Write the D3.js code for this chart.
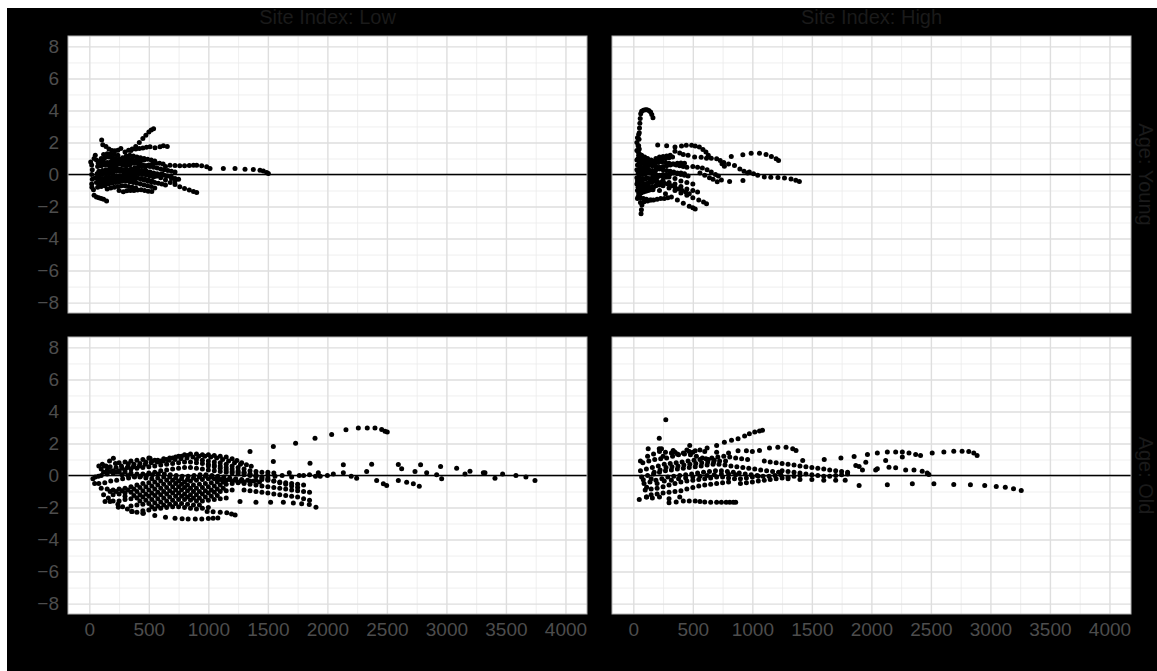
<!DOCTYPE html>
<html>
<head>
<meta charset="utf-8">
<script src="https://cdn.jsdelivr.net/npm/d3@7"></script>
<style>
	body { margin: 0; background: #ffffff; }
	svg text { font-family: "Liberation Sans", Arial, sans-serif; }
</style>
</head>
<body>
<div id="chart"></div>
<script>
//////////////////////////// data /////////////////////////////////////////

const colLabels = ["Site Index: Low", "Site Index: High"];
const rowLabels = ["Age: Young", "Age: Old"];

const xMajor = [0, 500, 1000, 1500, 2000, 2500, 3000, 3500, 4000];
const xMinor = [250, 750, 1250, 1750, 2250, 2750, 3250, 3750];
const yMajor = [-8, -6, -4, -2, 0, 2, 4, 6, 8];
const yMinor = [-7, -5, -3, -1, 1, 3, 5, 7];

// residuals, [x, residual]
const lowYoung = [
	// rising arc
	[350,1.5],[390,1.75],[420,2.0],[450,2.25],[475,2.45],[500,2.65],[520,2.78],[540,2.85],
	// upper rows
	[104,2.15],[113,1.86],[140,1.75],[165,1.6],[190,1.5],[215,1.48],[240,1.52],[265,1.62],
	[300,1.4],[330,1.52],[360,1.6],[390,1.6],[420,1.62],[450,1.66],[480,1.7],[510,1.74],[552,1.67],[594,1.73],[622,1.79],[655,1.75],
	// long tail
	[640,0.5],[678,0.58],[720,0.56],[760,0.55],[800,0.55],[840,0.56],[875,0.58],[902,0.58],[944,0.54],[986,0.48],[1014,0.38],
	[1126,0.37],[1224,0.37],[1308,0.33],[1378,0.32],[1434,0.27],[1462,0.22],[1490,0.13],[1504,0.06],
	// falling lines
	[560,-0.1],[600,-0.2],[640,-0.35],[680,-0.5],[720,-0.63],[760,-0.76],[800,-0.87],[840,-0.97],[875,-1.06],[902,-1.12],
	[610,0.05],[650,-0.1],[690,-0.25],[720,-0.4],
	// low rows
	[40,-1.3],[60,-1.4],[80,-1.45],[100,-1.5],[120,-1.55],[145,-1.65],
	[250,-1.0],[286,-1.08],[315,-1.02],[345,-1.0],[375,-1.0],[405,-0.97],[435,-0.96],[465,-1.0],[495,-1.04],[525,-1.06],
	// left column
	[12,0.78],[20,0.6],[25,0.3],[20,0.0],[25,-0.3],[20,-0.6],[22,-0.8],[35,-0.95],[40,1.0],[50,1.2],
	// dense cluster
	[60,0.9],[90,0.85],[120,0.8],[150,0.75],[180,0.8],[210,0.85],[240,0.9],[270,0.95],[300,1.0],[330,1.0],[360,0.95],
	[70,0.5],[100,0.55],[130,0.6],[160,0.6],[190,0.55],[220,0.6],[250,0.65],[280,0.6],[310,0.55],[340,0.6],[370,0.7],[400,0.8],[430,0.85],[460,0.9],[490,0.95],[520,0.9],[550,0.85],
	[80,0.2],[110,0.25],[140,0.3],[170,0.35],[200,0.4],[230,0.4],[260,0.35],[290,0.3],[320,0.3],[350,0.35],[380,0.4],[410,0.45],[440,0.5],[470,0.55],[500,0.6],[530,0.65],[560,0.7],[590,0.7],[620,0.65],
	[50,-0.2],[80,-0.1],[110,0.0],[140,0.05],[170,0.1],[200,0.15],[230,0.2],[260,0.2],[290,0.15],[320,0.1],[350,0.1],[380,0.15],[410,0.2],[440,0.25],[470,0.3],
	[60,-0.5],[90,-0.45],[120,-0.4],[150,-0.35],[180,-0.3],[210,-0.25],[240,-0.2],[270,-0.15],[300,-0.1],[330,-0.05],[360,0.0],[390,0.05],[420,0.05],[450,0.0],[480,-0.05],[510,-0.1],[540,-0.15],[570,-0.1],[600,-0.05],
	[70,-0.8],[100,-0.75],[130,-0.7],[160,-0.6],[190,-0.55],[220,-0.5],[250,-0.45],[280,-0.4],[310,-0.4],[340,-0.45],[370,-0.5],[400,-0.55],[430,-0.6],[460,-0.65],[490,-0.7],[520,-0.75],[550,-0.85],
	[150,-0.9],[180,-0.85],[210,-0.8],[240,-0.75],[270,-0.7],[300,-0.7],[330,-0.75],[360,-0.8],[390,-0.85],
	[100,1.0],[130,1.05],[160,1.1],[190,1.05],[220,1.0],[250,0.95],[280,1.05],[310,1.15],[340,1.2],[370,1.15],[400,1.1],[430,1.05],[460,1.0],
	[400,-0.2],[430,-0.3],[460,-0.35],[490,-0.4],[520,-0.45],[550,-0.5],[580,-0.55],[610,-0.6],[640,-0.65],
	[300,0.6],[330,0.7],[360,0.75],[390,0.7],[420,0.65],[450,0.6],[480,0.55],[510,0.5],[540,0.45],[570,0.4],[600,0.35],[630,0.3],[660,0.25],[690,0.2],[720,0.15],
	[480,0.2],[510,0.15],[540,0.1],[570,0.05],[600,0.0],[630,-0.05],[660,-0.1],[690,-0.15],[720,-0.25],[750,-0.3],
	[75,0.7],[105,0.72],[135,0.68],[165,0.7],[195,0.72],[225,0.75],[255,0.78],[285,0.8],[315,0.82],[345,0.85],[375,0.88],[405,0.9],[435,0.92],
	[65,0.05],[95,0.1],[125,0.15],[155,0.2],[185,0.22],[215,0.25],[245,0.28],[275,0.3],[305,0.28],[335,0.25],[365,0.22],[395,0.2],[425,0.18],[455,0.15],[485,0.12],[515,0.1],[545,0.05],[575,0.0],[605,-0.05],
	[75,-0.3],[105,-0.25],[135,-0.2],[165,-0.15],[195,-0.12],[225,-0.1],[255,-0.08],[285,-0.05],[315,-0.05],[345,-0.1],[375,-0.15],[405,-0.2],[435,-0.25],[465,-0.3],[495,-0.35],[525,-0.4],
	[85,-0.6],[115,-0.58],[145,-0.55],[175,-0.5],[205,-0.45],[235,-0.4],[265,-0.35],[295,-0.3],[325,-0.3],[355,-0.3],[385,-0.35],
	[120,1.25],[150,1.3],[180,1.3],[210,1.25],[240,1.2]
];

const highYoung = [
	// spike and hook
	[40,1.0],[42,1.4],[45,1.8],[48,2.2],[50,2.6],[52,2.9],[55,3.2],[58,3.5],[62,3.8],[70,3.95],[85,4.02],[100,4.05],[115,4.05],[130,4.0],[145,3.9],[155,3.75],[165,3.55],
	[30,2.0],[35,2.3],[45,2.5],[40,1.8],
	// upper rows
	[205,1.85],[280,1.8],[350,1.72],[405,1.78],[445,1.82],[490,1.82],[520,1.78],[555,1.72],[585,1.56],[610,1.4],[630,1.2],
	[350,1.45],[390,1.35],[420,1.25],[460,1.2],[515,1.1],[570,1.08],[615,1.02],[655,1.02],[700,0.98],[730,0.88],[745,0.67],[765,0.52],
	[823,1.12],[920,1.23],[990,1.33],[1060,1.33],[1115,1.25],[1160,1.12],[1200,0.98],[1220,0.88],
	// near zero to the right
	[975,0.15],[1010,0.05],[1045,-0.05],[1100,-0.15],[1155,-0.17],[1215,-0.18],[1270,-0.22],[1325,-0.28],[1365,-0.36],[1395,-0.44],
	[809,-0.44],[921,-0.38],
	[760,0.75],[800,0.65],[850,0.56],[895,0.35],[930,0.2],[960,0.1],
	[500,0.5],[540,0.45],[580,0.4],[620,0.3],[655,0.15],[690,0.0],[715,-0.1],[740,-0.35],
	[560,0.1],[600,-0.05],[640,-0.2],[670,-0.3],[705,-0.45],
	// falling lines
	[150,-0.3],[200,-0.5],[250,-0.7],[300,-0.85],[350,-1.0],[400,-1.15],[450,-1.3],[500,-1.45],[550,-1.6],[590,-1.72],[615,-1.83],
	[120,-0.6],[170,-0.8],[220,-1.0],[270,-1.2],[320,-1.4],[370,-1.6],[420,-1.8],[470,-1.98],[500,-2.08],[520,-2.15],
	[200,-0.2],[250,-0.35],[300,-0.5],[350,-0.6],[400,-0.75],[450,-0.9],[500,-1.0],[540,-1.1],
	[250,0.0],[300,-0.15],[350,-0.25],[400,-0.4],[450,-0.5],[500,-0.6],
	[65,-2.45],[68,-2.2],[72,-1.9],
	// dense column
	[30,1.5],[50,1.3],[70,1.2],[95,1.1],[120,1.0],[150,0.9],[180,0.85],[210,0.9],[240,0.95],[270,1.0],[300,1.05],[330,1.1],
	[30,0.9],[50,0.8],[75,0.7],[100,0.65],[130,0.6],[160,0.55],[190,0.5],[220,0.45],[250,0.5],[280,0.55],[310,0.6],[340,0.65],[370,0.7],[400,0.72],[430,0.7],
	[30,0.3],[50,0.35],[75,0.4],[100,0.35],[130,0.3],[160,0.25],[190,0.3],[220,0.35],[250,0.3],[280,0.25],[310,0.2],[340,0.15],[370,0.1],[400,0.1],[430,0.05],
	[30,-0.2],[50,-0.1],[75,0.0],[100,0.05],[130,0.1],[160,0.05],[190,0.0],[220,-0.05],[250,-0.1],[280,-0.15],
	[30,-0.6],[50,-0.5],[75,-0.4],[100,-0.3],[130,-0.25],[160,-0.2],[190,-0.15],[220,-0.1],[250,-0.05],[280,0.0],[310,0.05],[340,0.1],[370,0.05],[400,0.0],[430,-0.05],[460,-0.1],
	[35,-1.0],[55,-0.95],[80,-0.9],[105,-0.85],[130,-0.8],[160,-0.75],[190,-0.7],[220,-0.65],[250,-0.6],
	[40,-1.4],[60,-1.45],[85,-1.5],[110,-1.55],[140,-1.6],[170,-1.6],[200,-1.55],[230,-1.5],[260,-1.5],[290,-1.45],
	[60,-1.75],[90,-1.7],[120,-1.65],[150,-1.6],
	[60,0.5],[90,0.45],[120,0.5],[150,0.6],[180,0.7],[210,0.75],[240,0.8],[270,0.75],[300,0.7],[330,0.65],[360,0.6],[390,0.55],[420,0.5],[450,0.45],
	[55,-0.35],[80,-0.25],[110,-0.2],[140,-0.3],[170,-0.4],[200,-0.45],[230,-0.5],[260,-0.55],[290,-0.6],[320,-0.7],[350,-0.8],[380,-0.9],[410,-1.0],[440,-1.1],[470,-1.2],
	[190,1.0],[220,1.1],[250,1.12],[280,1.15],[310,1.2],
	[45,1.2],[65,1.0],[85,0.9],[105,0.85],[125,0.8],[145,0.75],
	[40,0.1],[60,0.15],[80,0.2],[100,0.2],[120,0.15],[140,0.1],[160,0.1],[180,0.15],
	[40,-0.8],[60,-0.7],[80,-0.65],[100,-0.6],[120,-0.55],[140,-0.5],[160,-0.45],[180,-0.4],
	[45,-1.2],[65,-1.15],[85,-1.1],[105,-1.05],[125,-1.0],[145,-0.95],[165,-0.95],
	[35,0.6],[35,-0.4],[35,-1.5],[50,1.6],[55,-1.2]
];

const lowOld = [
	// big arc
	[1350,1.5],[1546,1.81],[1733,2.02],[1896,2.33],[2036,2.56],[2156,2.85],[2260,2.96],[2335,2.96],[2400,2.96],[2456,2.87],[2484,2.77],[2503,2.71],
	// sparse tails
	[1546,0.875],[1854,0.77],[2134,0.67],[2372,0.71],[2596,0.69],[2783,0.67],[2951,0.56],[3086,0.46],[3198,0.27],[3310,0.17],[3472,0.1],[3584,0.0],[3668,-0.1],[3744,-0.31],
	[1680,0.17],[1764,0.0],[1924,0.17],[1940,-0.05],[2134,0.17],[2246,-0.17],[2330,0.25],[2414,-0.31],[2470,-0.52],[2498,-0.62],[2596,-0.31],[2666,-0.42],[2722,-0.52],[2772,-0.67],
	[2624,0.42],[2736,0.25],[2834,0.17],[2918,0.04],[2960,-0.21],[3156,0.1],[3324,0.17],[3408,-0.17],
	[1500,0.05],[1560,-0.05],[1620,0.0],[1700,-0.1],[1800,0.0],[1850,0.05],[1900,-0.05],[2000,0.0],[2050,0.1],[2200,-0.05],
	[1266,-1.63],[1400,-1.67],[1523,-1.67],[1630,-1.67],[1714,-1.71],[1784,-1.77],[1848,-1.81],[1904,-1.98],
	// bottom rows
	[550,-2.5],[640,-2.6],[720,-2.67],[780,-2.7],[830,-2.71],[890,-2.71],[945,-2.71],[1000,-2.68],[1040,-2.67],[1080,-2.65],
	[990,-2.25],[1040,-2.26],[1100,-2.3],[1155,-2.33],[1195,-2.4],[1225,-2.46],
	[132,-1.63],[174,-1.63],[244,-1.98],[356,-2.25],[454,-2.35],
	[202,1.08],[510,1.08],[328,0.73],[76,-0.04],[30,-0.2],[45,-0.5],
	// upper edge of cluster
	[600,0.9],[650,1.0],[700,1.1],[750,1.2],[800,1.3],[850,1.35],[900,1.35],[950,1.3],[1000,1.3],[1050,1.25],[1100,1.2],[1150,1.15],[1200,1.05],[1240,0.94],[1280,0.8],[1320,0.67],[1360,0.58],
	// dense cluster
	[170,0.9],[220,0.75],[270,0.6],[320,0.5],[370,0.55],[420,0.6],[470,0.7],[520,0.8],[570,0.85],[620,0.9],[670,0.95],[720,1.0],[770,1.05],[820,1.1],[870,1.15],[920,1.2],[970,1.2],[1020,1.15],[1070,1.1],[1120,1.0],[1170,0.9],[1220,0.8],[1270,0.7],
	[100,0.4],[150,0.35],[200,0.3],[250,0.3],[300,0.35],[350,0.4],[400,0.45],[450,0.5],[500,0.55],[550,0.6],[600,0.65],[650,0.7],[700,0.75],[750,0.8],[800,0.85],[850,0.85],[900,0.8],[950,0.75],[1000,0.7],[1050,0.65],[1100,0.6],[1150,0.5],[1200,0.4],[1250,0.3],[1300,0.2],[1350,0.1],[1400,0.05],
	[50,-0.1],[100,0.0],[150,0.1],[200,0.15],[250,0.2],[300,0.2],[350,0.15],[400,0.1],[450,0.1],[500,0.15],[550,0.2],[600,0.3],[650,0.35],[700,0.4],[750,0.45],[800,0.5],[850,0.5],[900,0.45],[950,0.4],[1000,0.35],[1050,0.3],[1100,0.25],[1150,0.2],[1200,0.15],[1250,0.1],[1300,0.05],[1350,0.0],[1400,-0.05],[1450,-0.1],[1500,-0.15],
	[80,-0.5],[130,-0.45],[180,-0.35],[230,-0.3],[280,-0.2],[330,-0.15],[380,-0.1],[430,-0.05],[480,0.0],[530,0.05],[580,0.1],[630,0.1],[680,0.05],[730,0.0],[780,-0.05],[830,-0.05],[880,0.0],[930,0.05],[980,0.05],[1030,0.0],[1080,-0.05],[1130,-0.1],[1180,-0.15],[1230,-0.2],[1280,-0.25],[1330,-0.3],[1380,-0.35],[1430,-0.4],
	[100,-0.8],[150,-0.85],[200,-0.9],[250,-0.85],[300,-0.8],[350,-0.7],[400,-0.6],[450,-0.5],[500,-0.45],[550,-0.4],[600,-0.35],[650,-0.3],[700,-0.3],[750,-0.35],[800,-0.4],[850,-0.35],[900,-0.3],[950,-0.25],[1000,-0.2],[1050,-0.2],[1100,-0.25],[1150,-0.3],[1200,-0.35],[1250,-0.4],[1300,-0.5],[1350,-0.55],[1400,-0.6],[1450,-0.65],[1500,-0.7],[1550,-0.75],[1600,-0.8],[1650,-0.85],[1700,-0.9],[1750,-0.95],[1800,-1.0],[1850,-1.05],
	[200,-1.2],[250,-1.15],[300,-1.1],[350,-1.05],[400,-1.0],[450,-0.95],[500,-0.9],[550,-0.85],[600,-0.8],[650,-0.75],[700,-0.7],[750,-0.7],[800,-0.75],[850,-0.8],[900,-0.8],[950,-0.75],[1000,-0.7],[1050,-0.65],[1100,-0.6],[1150,-0.55],[1200,-0.5],[1250,-0.45],[1300,-0.4],[1350,-0.35],[1400,-0.3],[1450,-0.25],[1500,-0.3],[1550,-0.35],[1600,-0.4],[1650,-0.45],[1700,-0.5],[1750,-0.55],[1800,-0.6],
	[250,-1.6],[300,-1.5],[350,-1.45],[400,-1.4],[450,-1.35],[500,-1.3],[550,-1.25],[600,-1.2],[650,-1.15],[700,-1.1],[750,-1.1],[800,-1.15],[850,-1.2],[900,-1.2],[950,-1.15],[1000,-1.1],[1050,-1.05],[1100,-1.0],[1150,-0.95],[1200,-0.9],
	[350,-1.9],[400,-1.85],[450,-1.8],[500,-1.75],[550,-1.7],[600,-1.65],[650,-1.6],[700,-1.55],[750,-1.5],[800,-1.5],[850,-1.55],[900,-1.6],[950,-1.6],[1000,-1.55],[1050,-1.5],[1100,-1.45],[1150,-1.4],
	[450,-2.2],[500,-2.15],[550,-2.1],[600,-2.05],[650,-2.0],[700,-1.95],[750,-1.95],[800,-2.0],[850,-2.05],[900,-2.1],[950,-2.05],[1000,-2.0],
	[120,-1.2],[160,-1.4],[200,-1.6],[240,-1.8],[280,-1.95],[320,-2.1],[360,-2.25],[400,-2.3],[450,-2.35],
	[80,0.6],[110,0.7],[140,0.6],[250,0.8],[300,0.85],[350,0.9],[400,0.95],[450,1.0],[500,1.1],[550,0.95],
	[1000,0.6],[1050,0.55],[1100,0.45],[1150,0.35],[1200,0.25],[1250,0.2],[1300,0.15],[1350,0.05],[1400,-0.05],[1450,-0.15],[1500,-0.25],[1550,-0.35],[1600,-0.45],[1650,-0.55],[1700,-0.65],[1750,-0.75],
	[1300,-0.9],[1350,-0.95],[1400,-1.0],[1450,-1.05],[1500,-1.1],[1550,-1.15],[1600,-1.2],[1650,-1.25],[1700,-1.3],[1750,-1.35],[1800,-1.45],[1850,-1.55],
	[120,0.2],[175,0.25],[225,0.2],[275,0.05],[325,0.0],[375,-0.05],[425,-0.1],[475,-0.15],[525,-0.2],[575,-0.15],[625,-0.1],[675,-0.1],[725,-0.15],[775,-0.2],[825,-0.25],[875,-0.15],[925,-0.1],[975,-0.05],[1025,-0.1],[1075,-0.15],[1125,-0.2],[1175,-0.25],[1225,-0.3],[1275,-0.35],
	[175,-1.0],[225,-1.0],[275,-0.95],[325,-0.9],[375,-0.85],[425,-0.75],[475,-0.7],[525,-0.65],[575,-0.6],[625,-0.55],[675,-0.5],[725,-0.5],[775,-0.55],[825,-0.6],[875,-0.6],[925,-0.55],[975,-0.5],[1025,-0.45],[1075,-0.4],[1125,-0.4],
	[300,-1.3],[375,-1.25],[425,-1.2],[475,-1.15],[525,-1.1],[575,-1.05],[625,-1.0],[675,-0.95],[725,-0.9],[775,-0.9],[825,-0.95],[875,-1.0],[925,-1.0],[975,-0.95],[1025,-0.9],[1075,-0.85],[1125,-0.8],
	[425,-1.6],[475,-1.55],[525,-1.5],[575,-1.45],[625,-1.4],[675,-1.35],[725,-1.3],[775,-1.3],[825,-1.35],[875,-1.4],[925,-1.4],[975,-1.35],[1025,-1.3],[1075,-1.25],
	[525,-1.95],[575,-1.9],[625,-1.85],[675,-1.8],[725,-1.75],[775,-1.75],[825,-1.8],[875,-1.85],[925,-1.85],
	[125,0.6],[175,0.55],[225,0.5],[275,0.45],[325,0.55],[375,0.7],[425,0.75],[475,0.85],[525,0.9],[575,0.95],[625,1.05],[675,1.1],[725,1.15],[775,1.2],[825,1.25],
	[900,1.0],[950,0.95],[1000,0.9],[1050,0.85],[1100,0.8],[1150,0.7],[1200,0.6],[1250,0.5],[1300,0.4],[1350,0.3],[1400,0.25],[1450,0.2],[1500,0.2],[1550,0.15]
];

const highOld = [
	// isolated high points
	[273,3.48],[218,2.33],[125,1.67],[218,1.67],[237,1.67],[335,1.56],[474,1.88],[84,-0.27],[112,-0.73],[112,-1.35],[60,0.9],[50,-1.5],
	// rising line
	[500,1.45],[560,1.6],[620,1.72],[700,1.88],[765,2.08],[825,2.2],[880,2.3],[935,2.46],[975,2.6],[1020,2.71],[1060,2.78],[1085,2.82],
	[880,1.55],[950,1.55],[1000,1.5],[1060,1.56],[1144,1.71],[1214,1.77],[1283,1.77],[1339,1.67],[1367,1.56],
	// right rows
	[1423,0.94],[1604,1.0],[1744,1.1],[1855,1.19],[1967,1.31],[2050,1.4],[2134,1.46],[2204,1.46],[2260,1.46],[2316,1.4],[2372,1.31],[2413,1.25],
	[2511,1.4],[2609,1.46],[2692,1.52],[2762,1.52],[2818,1.5],[2860,1.4],[2888,1.25],
	[1869,0.62],[1897,0.56],[1925,0.35],[1953,0.83],[2036,0.35],[2050,0.42],[2120,0.94],[2148,0.52],[2204,0.48],[2260,1.15],[2288,0.35],[2358,0.35],[2427,0.27],[2469,0.15],[2483,0.06],
	[1897,-0.63],[2134,-0.58],[2344,-0.52],[2525,-0.52],[2692,-0.56],[2832,-0.58],[2952,-0.63],[3049,-0.69],[3125,-0.73],[3194,-0.83],[3259,-0.94],
	// bottom rows
	[300,-1.7],[360,-1.65],[420,-1.6],[470,-1.6],[520,-1.6],[560,-1.62],[600,-1.65],[650,-1.67],[700,-1.67],[740,-1.67],[780,-1.67],[810,-1.67],[840,-1.67],[860,-1.67],
	[110,-1.35],[160,-1.4],[220,-1.35],[300,-1.45],[390,-1.35],
	// dense cluster
	[80,0.8],[130,0.9],[180,1.0],[230,1.05],[280,1.1],[330,1.2],[380,1.3],[430,1.35],[480,1.3],[530,1.2],[580,1.1],[630,1.0],[680,0.95],
	[60,0.3],[110,0.4],[160,0.5],[210,0.6],[260,0.7],[310,0.75],[360,0.8],[410,0.85],[460,0.9],[510,0.95],[560,1.0],[610,1.05],[660,1.1],[710,1.15],[760,1.2],[810,1.15],[860,1.1],[910,1.05],[960,1.0],
	[70,-0.1],[120,0.0],[170,0.1],[220,0.2],[270,0.3],[320,0.35],[370,0.4],[420,0.45],[470,0.5],[520,0.55],[570,0.6],[620,0.65],[670,0.7],[720,0.7],[770,0.65],[820,0.6],[870,0.55],[920,0.5],[970,0.45],[1020,0.4],[1070,0.35],[1120,0.3],[1170,0.25],[1220,0.2],
	[90,-0.5],[140,-0.4],[190,-0.3],[240,-0.2],[290,-0.1],[340,-0.05],[390,0.0],[440,0.05],[490,0.1],[540,0.15],[590,0.2],[640,0.25],[690,0.3],[740,0.3],[790,0.25],[840,0.2],[890,0.15],[940,0.1],[990,0.05],[1040,0.0],[1090,-0.05],[1140,-0.05],[1190,0.0],[1240,0.05],
	[100,-0.9],[150,-0.85],[200,-0.8],[250,-0.7],[300,-0.6],[350,-0.5],[400,-0.4],[450,-0.35],[500,-0.3],[550,-0.25],[600,-0.2],[650,-0.15],[700,-0.1],[750,-0.1],[800,-0.15],[850,-0.2],[900,-0.2],[950,-0.15],[1000,-0.1],[1050,-0.05],
	[150,-1.2],[200,-1.15],[250,-1.1],[300,-1.05],[350,-1.0],[400,-0.95],[450,-0.85],[500,-0.75],[550,-0.65],[600,-0.6],[650,-0.55],[700,-0.5],[750,-0.45],[800,-0.4],
	[120,1.2],[170,1.35],[220,1.5],[270,1.45],[320,1.4],[370,1.35],[420,1.4],[470,1.5],[520,1.55],
	[1100,0.9],[1150,0.85],[1200,0.8],[1250,0.75],[1300,0.7],[1350,0.65],[1400,0.6],[1450,0.55],[1500,0.5],[1550,0.45],[1600,0.4],[1650,0.35],[1700,0.3],[1750,0.25],[1800,0.2],
	[1250,0.3],[1300,0.25],[1350,0.2],[1400,0.15],[1450,0.1],[1500,0.05],[1550,0.0],[1600,-0.05],[1650,-0.05],[1700,0.0],[1750,0.05],[1800,0.1],
	[900,-0.5],[950,-0.45],[1000,-0.4],[1050,-0.35],[1100,-0.3],[1150,-0.25],[1200,-0.2],[1250,-0.15],[1300,-0.1],[1350,-0.05],[1400,0.0],
	[1300,-0.2],[1400,-0.25],[1500,-0.25],[1600,-0.3],[1700,-0.3],[1780,-0.3],
	[175,0.2],[225,0.35],[275,0.5],[325,0.55],[375,0.6],[425,0.65],[475,0.7],[525,0.75],[575,0.8],[625,0.85],[675,0.85],[725,0.9],[775,0.9],
	[200,-0.5],[260,-0.35],[320,-0.3],[380,-0.2],[440,-0.15],[500,-0.1],[560,-0.05],[620,0.0],[680,0.05],[740,0.1],[800,0.1],[860,0.05],
	[150,-0.2],[250,1.2],[350,1.45],[450,1.6],[600,1.5],[700,1.45],[800,1.4]
];

const facets = [
	{ row: 0, col: 0, points: lowYoung },
	{ row: 0, col: 1, points: highYoung },
	{ row: 1, col: 0, points: lowOld },
	{ row: 1, col: 1, points: highOld }
];

//////////////////////////// layout ///////////////////////////////////////

const width = 1157;
const height = 671;
const cols = [{ left: 68, right: 587 }, { left: 612, right: 1131 }];
const rows = [{ top: 36, bottom: 313 }, { top: 337, bottom: 614 }];
const xDomain = [-179, 4181];
const yDomain = [-8.65, 8.65];

const svg = d3.select("#chart").append("svg")
	.attr("width", width)
	.attr("height", height);

// black plot background
svg.append("rect")
	.attr("x", 7).attr("y", 8)
	.attr("width", width - 7).attr("height", height - 8)
	.attr("fill", "#000000");

const gridStyle = (g, color, w) => {
	g.select(".domain").remove();
	g.selectAll(".tick line").attr("stroke", color).attr("stroke-width", w);
};

const labelStyle = (g) => {
	g.select(".domain").remove();
	g.attr("font-family", null).attr("font-size", null);
	g.selectAll("text")
		.attr("fill", "#4d4d4d")
		.style("font-size", "19px");
};

//////////////////////////// panels ///////////////////////////////////////

facets.forEach((f) => {
	const c = cols[f.col];
	const r = rows[f.row];
	const x = d3.scaleLinear().domain(xDomain).range([c.left, c.right]);
	const y = d3.scaleLinear().domain(yDomain).range([r.bottom, r.top]);
	const h = r.bottom - r.top;
	const w = c.right - c.left;

	const g = svg.append("g");

	g.append("rect")
		.attr("x", c.left).attr("y", r.top)
		.attr("width", w).attr("height", h)
		.attr("fill", "#ffffff");

	// minor grid
	g.append("g")
		.attr("transform", `translate(0,${r.bottom})`)
		.call(d3.axisBottom(x).tickValues(xMinor).tickSize(-h).tickFormat(""))
		.call(gridStyle, "#ebebeb", 0.8);
	g.append("g")
		.attr("transform", `translate(${c.left},0)`)
		.call(d3.axisLeft(y).tickValues(yMinor).tickSize(-w).tickFormat(""))
		.call(gridStyle, "#ebebeb", 0.8);

	// major grid
	g.append("g")
		.attr("transform", `translate(0,${r.bottom})`)
		.call(d3.axisBottom(x).tickValues(xMajor).tickSize(-h).tickFormat(""))
		.call(gridStyle, "#dedede", 1.4);
	g.append("g")
		.attr("transform", `translate(${c.left},0)`)
		.call(d3.axisLeft(y).tickValues(yMajor).tickSize(-w).tickFormat(""))
		.call(gridStyle, "#dedede", 1.4);

	// zero line
	g.append("line")
		.attr("x1", c.left).attr("x2", c.right)
		.attr("y1", y(0)).attr("y2", y(0))
		.attr("stroke", "#000000")
		.attr("stroke-width", 1.6);

	// points
	g.append("g")
		.selectAll("circle")
		.data(f.points)
		.join("circle")
		.attr("cx", (d) => x(d[0]))
		.attr("cy", (d) => y(d[1]))
		.attr("r", 2.5)
		.attr("fill", "#000000");

	// border
	g.append("rect")
		.attr("x", c.left).attr("y", r.top)
		.attr("width", w).attr("height", h)
		.attr("fill", "none")
		.attr("stroke", "#b3b3b3")
		.attr("stroke-width", 1);

	// tick labels
	if (f.row === 1) {
		g.append("g")
			.attr("transform", `translate(0,${r.bottom})`)
			.call(d3.axisBottom(x).tickValues(xMajor).tickSize(0).tickPadding(9).tickFormat(d3.format("d")))
			.call(labelStyle);
	}
	if (f.col === 0) {
		g.append("g")
			.attr("transform", `translate(${c.left},0)`)
			.call(d3.axisLeft(y).tickValues(yMajor).tickSize(0).tickPadding(9))
			.call(labelStyle);
	}
});

//////////////////////////// strip labels /////////////////////////////////

svg.append("g")
	.selectAll("text")
	.data(colLabels)
	.join("text")
	.attr("x", (d, i) => (cols[i].left + cols[i].right) / 2)
	.attr("y", 24)
	.attr("text-anchor", "middle")
	.attr("fill", "#1a1a1a")
	.style("font-size", "20px")
	.text((d) => d);

svg.append("g")
	.selectAll("text")
	.data(rowLabels)
	.join("text")
	.attr("transform", (d, i) => `translate(1139,${(rows[i].top + rows[i].bottom) / 2}) rotate(90)`)
	.attr("text-anchor", "middle")
	.attr("fill", "#1a1a1a")
	.style("font-size", "20px")
	.text((d) => d);
</script>
</body>
</html>
